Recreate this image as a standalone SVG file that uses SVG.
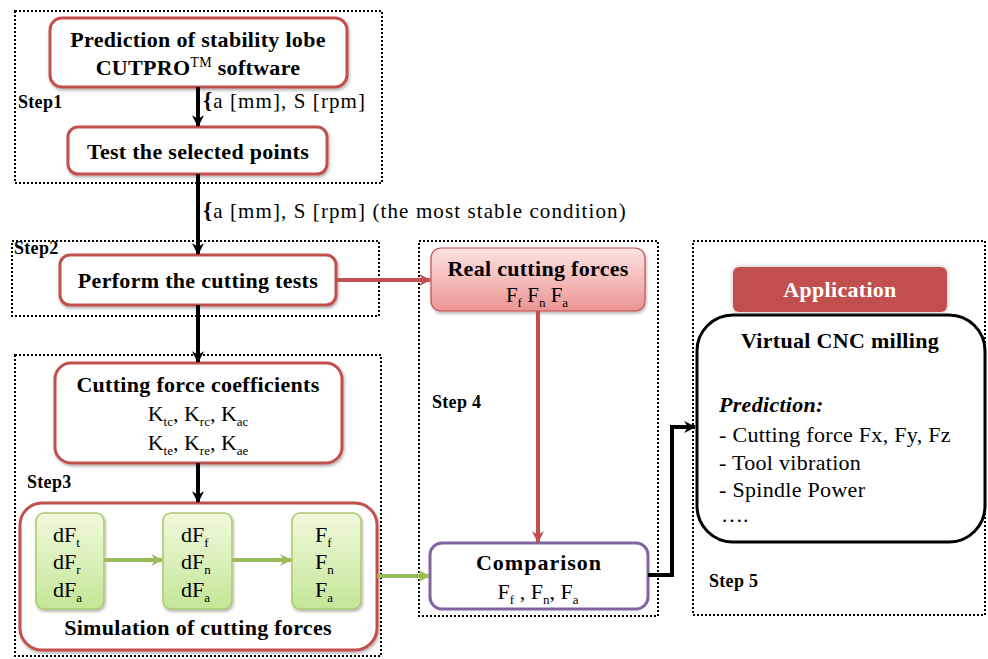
<svg xmlns="http://www.w3.org/2000/svg" width="988" height="659" viewBox="0 0 988 659">
<style>
.step{fill:none;stroke:#000;stroke-width:2;stroke-dasharray:2 2}
.rbox{fill:#fff;stroke:#c0504d;stroke-width:3}
.gbox{fill:url(#gg);stroke:#a9c96e;stroke-width:1.5}
.t{font-family:'Liberation Serif','DejaVu Serif','Noto Serif',serif;fill:#000}
.b{font-weight:bold;font-size:22px;letter-spacing:0.3px}
.c{text-anchor:middle}
.r{font-size:22px}
.lab{font-size:21px;letter-spacing:1.1px}
.lbl{font-family:'Liberation Serif','DejaVu Serif',serif;font-weight:bold;font-size:18px;letter-spacing:0.3px;fill:#000}
.blk{fill:none;stroke:#000;stroke-width:4}
.red{fill:none;stroke:#c0504d;stroke-width:4}
.grn{fill:none;stroke:#9bbb59;stroke-width:4}
.s{font-size:13px}
</style>
<defs>
<linearGradient id="gg" x1="0" y1="0" x2="0" y2="1"><stop offset="0" stop-color="#f0f9dc"/><stop offset="1" stop-color="#c4e697"/></linearGradient>
<linearGradient id="pg" x1="0" y1="0" x2="0" y2="1"><stop offset="0" stop-color="#fce3e2"/><stop offset="1" stop-color="#eb9593"/></linearGradient>
<filter id="sh" x="-10%" y="-10%" width="120%" height="130%"><feDropShadow dx="1" dy="2" stdDeviation="1.5" flood-color="#000" flood-opacity="0.3"/></filter>
<filter id="glow" x="-10%" y="-20%" width="120%" height="140%"><feDropShadow dx="0" dy="0" stdDeviation="2.5" flood-color="#888" flood-opacity="0.6"/></filter>
<marker id="ab" viewBox="0 0 10 10" refX="9" refY="5" markerWidth="12" markerHeight="12" markerUnits="userSpaceOnUse" orient="auto"><path d="M0,0 L10,5 L0,10 L3,5z" fill="#000"/></marker>
<marker id="ar" viewBox="0 0 10 10" refX="9" refY="5" markerWidth="12" markerHeight="12" markerUnits="userSpaceOnUse" orient="auto"><path d="M0,0 L10,5 L0,10 L3,5z" fill="#c0504d"/></marker>
<marker id="ag" viewBox="0 0 10 10" refX="9" refY="5" markerWidth="12" markerHeight="12" markerUnits="userSpaceOnUse" orient="auto"><path d="M0,0 L10,5 L0,10 L3,5z" fill="#9bbb59"/></marker>
</defs>
<rect width="988" height="659" fill="#fff"/>

<g id="step-frames">
<rect class="step" x="15" y="11" width="367" height="172"/>
<rect class="step" x="12" y="241" width="367" height="75"/>
<rect class="step" x="15" y="355" width="366" height="301"/>
<rect class="step" x="419" y="241" width="239" height="375"/>
<rect class="step" x="693" y="241" width="292" height="374"/>
<text class="lbl" x="18" y="108">Step1</text>
<text class="lbl" x="14" y="254">Step2</text>
<text class="lbl" x="27" y="488">Step3</text>
<text class="lbl" x="432" y="408">Step 4</text>
<text class="lbl" x="709" y="587">Step 5</text>
</g>

<g id="prediction">
<rect class="rbox" x="50" y="18" width="297" height="69" rx="12" filter="url(#sh)"/>
<text class="t b c" x="198" y="47">Prediction of stability lobe</text>
<text class="t b c" x="198" y="75">CUTPRO<tspan dy="-8" font-size="14" font-weight="normal">TM</tspan><tspan dy="8"> software</tspan></text>
</g>

<g id="test-points">
<rect class="rbox" x="68" y="127" width="259" height="47" rx="10" filter="url(#sh)"/>
<text class="t b c" x="198" y="159">Test the selected points</text>
</g>

<g id="perform-tests">
<rect class="rbox" x="60" y="255" width="276" height="50" rx="10" filter="url(#sh)"/>
<text class="t b c" x="198" y="288">Perform the cutting tests</text>
</g>

<g id="coefficients">
<rect class="rbox" x="55" y="363" width="287" height="100" rx="16" filter="url(#sh)"/>
<text class="t b c" x="198" y="392">Cutting force coefficients</text>
<text class="t r c" x="198" y="421">K<tspan class="s" dy="5">tc</tspan><tspan dy="-5">, K</tspan><tspan class="s" dy="5">rc</tspan><tspan dy="-5">, K</tspan><tspan class="s" dy="5">ac</tspan></text>
<text class="t r c" x="198" y="450">K<tspan class="s" dy="5">te</tspan><tspan dy="-5">, K</tspan><tspan class="s" dy="5">re</tspan><tspan dy="-5">, K</tspan><tspan class="s" dy="5">ae</tspan></text>
</g>

<g id="simulation">
<rect class="rbox" x="20" y="503" width="357" height="147" rx="22" filter="url(#sh)"/>
<text class="t b c" x="198" y="635">Simulation of cutting forces</text>
</g>

<g id="sim-local">
<rect class="gbox" x="36" y="513" width="68" height="96" rx="8" filter="url(#sh)"/>
<text class="t r" x="53" y="542">dF<tspan class="s" dy="5">t</tspan></text>
<text class="t r" x="53" y="569">dF<tspan class="s" dy="5">r</tspan></text>
<text class="t r" x="53" y="597">dF<tspan class="s" dy="5">a</tspan></text>
</g>
<g id="sim-transformed">
<rect class="gbox" x="163" y="513" width="69" height="96" rx="8" filter="url(#sh)"/>
<text class="t r" x="181" y="542">dF<tspan class="s" dy="5">f</tspan></text>
<text class="t r" x="181" y="569">dF<tspan class="s" dy="5">n</tspan></text>
<text class="t r" x="181" y="597">dF<tspan class="s" dy="5">a</tspan></text>
</g>
<g id="sim-total">
<rect class="gbox" x="292" y="513" width="69" height="96" rx="8" filter="url(#sh)"/>
<text class="t r" x="315" y="542">F<tspan class="s" dy="5">f</tspan></text>
<text class="t r" x="315" y="569">F<tspan class="s" dy="5">n</tspan></text>
<text class="t r" x="315" y="597">F<tspan class="s" dy="5">a</tspan></text>
</g>

<g id="real-forces">
<rect x="431" y="248" width="214" height="63" rx="10" fill="url(#pg)" stroke="#c0504d" stroke-width="1.2" filter="url(#sh)"/>
<text class="t b c" x="538" y="276">Real cutting forces</text>
<text class="t c" x="537" y="302" font-size="21">F<tspan class="s" dy="5">f</tspan><tspan dy="-5"> F</tspan><tspan class="s" dy="5">n</tspan><tspan dy="-5"> F</tspan><tspan class="s" dy="5">a</tspan></text>
</g>

<g id="comparison">
<rect x="430" y="543" width="218" height="66" rx="12" fill="#fff" stroke="#8064a2" stroke-width="3"/>
<text class="t b c" x="539" y="570" style="letter-spacing:1px">Comparison</text>
<text class="t r c" x="538" y="599">F<tspan class="s" dy="5">f</tspan><tspan dy="-5"> , F</tspan><tspan class="s" dy="5">n</tspan><tspan dy="-5">, F</tspan><tspan class="s" dy="5">a</tspan></text>
</g>

<g id="virtual-cnc">
<rect x="697" y="315" width="288" height="227" rx="36" fill="#fff" stroke="#000" stroke-width="3"/>
<text class="t b c" x="840" y="348">Virtual CNC milling</text>
<text class="t b" x="719" y="412" font-style="italic">Prediction:</text>
<text class="t r" x="719" y="442" letter-spacing="0.3">- Cutting force Fx, Fy, Fz</text>
<text class="t r" x="719" y="470" letter-spacing="0.3">- Tool vibration</text>
<text class="t r" x="719" y="497" letter-spacing="0.3">- Spindle Power</text>
<text class="t r" x="721" y="522">….</text>
</g>

<g id="application">
<rect x="733" y="267" width="214" height="45" rx="6" fill="#c0504d" filter="url(#glow)"/>
<text class="t b c" x="840" y="297" style="fill:#fff">Application</text>
</g>

<g id="connectors">
<line class="blk" x1="198" y1="87" x2="198" y2="126" marker-end="url(#ab)"/>
<line class="blk" x1="198" y1="174" x2="198" y2="254" marker-end="url(#ab)"/>
<line class="blk" x1="198" y1="305" x2="198" y2="362" marker-end="url(#ab)"/>
<line class="blk" x1="198" y1="463" x2="198" y2="502" marker-end="url(#ab)"/>
<line class="red" x1="337" y1="280" x2="430" y2="280" marker-end="url(#ar)"/>
<line class="red" x1="538" y1="311" x2="538" y2="542" marker-end="url(#ar)"/>
<line class="grn" x1="104" y1="560" x2="162" y2="560" marker-end="url(#ag)"/>
<line class="grn" x1="232" y1="560" x2="291" y2="560" marker-end="url(#ag)"/>
<line class="grn" x1="377" y1="576" x2="429" y2="576" marker-end="url(#ag)"/>
<polyline class="blk" points="648,575 672,575 672,427 695,427" marker-end="url(#ab)"/>
<text class="t lab" x="203" y="108"><tspan font-weight="bold" font-size="23">{</tspan>a [mm], S [rpm]</text>
<text class="t lab" x="203" y="218"><tspan font-weight="bold" font-size="23">{</tspan>a [mm], S [rpm] (the most stable condition)</text>
</g>
</svg>
